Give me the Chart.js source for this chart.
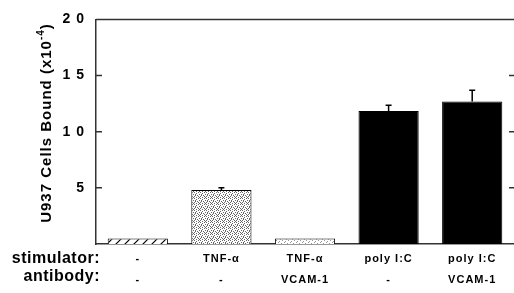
<!DOCTYPE html>
<html>
<head>
<meta charset="utf-8">
<script src="https://cdn.jsdelivr.net/npm/chart.js@4/dist/chart.umd.min.js"></script>
<style>
  html, body { margin: 0; padding: 0; background: #fff; }
  #wrap { width: 514px; height: 293px; }
</style>
</head>
<body>
<div id="wrap"><canvas id="myChart" width="514" height="293"></canvas></div>
<script>
var stimulators = ['-', 'TNF-α', 'TNF-α', 'poly I:C', 'poly I:C'];
var antibodies = ['-', '-', 'VCAM-1', '-', 'VCAM-1'];
var cellsBound = [0.5, 4.8, 0.5, 11.85, 12.7];
var errors = [0, 0.2, 0, 0.5, 1.0];
var yTicks = [5, 10, 15, 20];

var FONT = '"Liberation Sans", Arial, sans-serif';
var AXIS = '#333';

function makePattern(kind) {
  var c = document.createElement('canvas');
  var g = c.getContext('2d');
  if (kind === 'hatch') {
    c.width = 9; c.height = 9;
    g.fillStyle = '#fff'; g.fillRect(0, 0, 9, 9);
    g.strokeStyle = '#000'; g.lineWidth = 1.2;
    g.beginPath();
    g.moveTo(0, 9); g.lineTo(9, 0);
    g.moveTo(-1, 1); g.lineTo(1, -1);
    g.moveTo(8, 10); g.lineTo(10, 8);
    g.stroke();
    return g.createPattern(c, 'repeat');
  }
  c.width = 6; c.height = 6;
  g.fillStyle = '#fff'; g.fillRect(0, 0, 6, 6);
  var dots;
  if (kind === 'dense') {
    g.fillStyle = '#666';
    dots = [[0,0],[2,0],[4,1],[1,2],[3,2],[5,3],[0,4],[2,4],[4,5],[1,5],[3,3]];
  } else {
    g.fillStyle = '#999';
    dots = [[0,0],[3,1],[5,3],[1,4],[4,5],[2,2]];
  }
  dots.forEach(function(d) { g.fillRect(d[0], d[1], 1, 1); });
  return g.createPattern(c, 'repeat');
}

var ctx = document.getElementById('myChart').getContext('2d');
var fills = [makePattern('hatch'), makePattern('dense'), makePattern('light'), '#000', '#000'];

var framePlugin = {
  id: 'frame',
  beforeDraw: function(chart) {
    chart.ctx.letterSpacing = '1px';
  },
  afterDraw: function(chart) {
    var c = chart.ctx, a = chart.chartArea, y = chart.scales.y, x = chart.scales.x;
    c.save();
    c.letterSpacing = '0px';
    // top border and inward ticks
    c.strokeStyle = AXIS; c.lineWidth = 1.5;
    c.beginPath();
    c.moveTo(a.left, a.top); c.lineTo(a.right, a.top);
    yTicks.forEach(function(t) {
      var py = y.getPixelForValue(t);
      c.moveTo(a.left, py); c.lineTo(a.left + 6, py);
      c.moveTo(a.right - 5, py); c.lineTo(a.right, py);
    });
    c.stroke();
    // error bars
    c.strokeStyle = '#000'; c.lineWidth = 1.5;
    cellsBound.forEach(function(v, i) {
      if (!errors[i]) return;
      var px = x.getPixelForValue(i);
      var top = y.getPixelForValue(v + errors[i]);
      c.beginPath();
      c.moveTo(px, y.getPixelForValue(v)); c.lineTo(px, top);
      c.moveTo(px - 3, top); c.lineTo(px + 3, top);
      c.stroke();
    });
    // row labels
    c.fillStyle = '#000';
    c.font = 'bold 16px ' + FONT;
    c.letterSpacing = '0.5px';
    c.textAlign = 'right'; c.textBaseline = 'middle';
    c.fillText('stimulator:', 100, 259);
    c.fillText('antibody:', 100, 277);
    // y title with superscript
    c.translate(47, 123);
    c.rotate(-Math.PI / 2);
    c.font = 'bold 15px ' + FONT;
    c.letterSpacing = '1px';
    var main = 'U937 Cells Bound (x10';
    var sup = '-4';
    var wMain = c.measureText(main).width;
    c.font = 'bold 10px ' + FONT;
    var wSup = c.measureText(sup).width;
    c.font = 'bold 15px ' + FONT;
    var wEnd = c.measureText(')').width;
    var start = -(wMain + wSup + wEnd) / 2;
    c.textAlign = 'left';
    c.fillText(main, start, 0);
    c.font = 'bold 10px ' + FONT;
    c.fillText(sup, start + wMain, -6);
    c.font = 'bold 15px ' + FONT;
    c.fillText(')', start + wMain + wSup, 0);
    c.restore();
  }
};

myChart = new Chart(ctx, {
  type: 'bar',
  data: {
    labels: stimulators.map(function(s, i) { return [s, antibodies[i]]; }),
    datasets: [{
      label: 'U937 Cells Bound',
      data: cellsBound,
      backgroundColor: fills,
      borderColor: '#000',
      borderWidth: 1,
      borderSkipped: 'bottom',
      barPercentage: 0.72,
      categoryPercentage: 1
    }]
  },
  options: {
    responsive: false,
    animation: false,
    layout: { padding: { top: 17, right: 0, left: 0, bottom: 0 } },
    plugins: { legend: { display: false }, tooltip: { enabled: false } },
    scales: {
      x: {
        grid: { display: false, drawTicks: false },
        border: { display: true, color: AXIS, width: 1.5 },
        ticks: {
          color: '#000',
          font: { family: FONT, size: 11, weight: 'bold', lineHeight: 1.9 },
          padding: 5,
          maxRotation: 0,
          autoSkip: false
        },
        afterFit: function(s) { s.height = 49; }
      },
      y: {
        min: 0,
        max: 20,
        grid: { display: false, drawTicks: false },
        border: { display: true, color: AXIS, width: 1.5 },
        ticks: {
          stepSize: 5,
          color: '#000',
          padding: 11,
          font: { family: FONT, size: 14, weight: 'bold' },
          callback: function(v) { return v === 0 ? '' : String(v).split('').join(' '); }
        },
        afterFit: function(s) { s.width = 96; }
      }
    }
  },
  plugins: [framePlugin]
});
</script>
</body>
</html>
